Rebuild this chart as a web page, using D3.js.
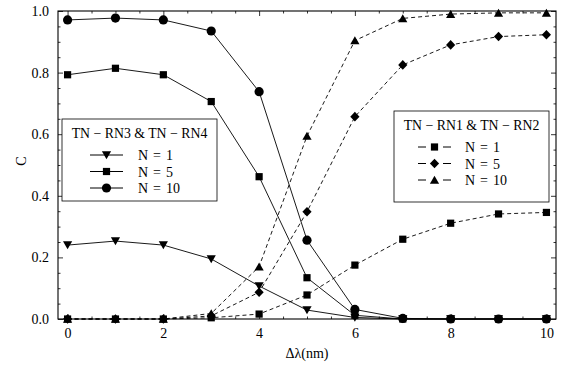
<!DOCTYPE html>
<html>
<head>
<meta charset="utf-8">
<script src="https://cdn.jsdelivr.net/npm/d3@7"></script>
</head>
<body style="margin:0; background:#fff">
<svg id="chart" width="561" height="369"></svg>
<script>
// x positions (delta lambda, nm)
var xValues = [0, 1, 2, 3, 4, 5, 6, 7, 8, 9, 10];

// TN - RN3 & TN - RN4 (solid)
var rn34N1 = [0.240, 0.253, 0.240, 0.195, 0.107, 0.029, 0.005, 0.0, 0.0, 0.0, 0.0];
var rn34N5 = [0.793, 0.814, 0.793, 0.706, 0.462, 0.134, 0.012, 0.0, 0.0, 0.0, 0.0];
var rn34N10 = [0.971, 0.977, 0.971, 0.935, 0.738, 0.256, 0.031, 0.002, 0.0, 0.0, 0.0];

// TN - RN1 & TN - RN2 (dashed)
var rn12N1 = [0.0, 0.0, 0.0, 0.004, 0.016, 0.078, 0.175, 0.259, 0.311, 0.341, 0.346];
var rn12N5 = [0.0, 0.0, 0.0, 0.010, 0.087, 0.348, 0.657, 0.825, 0.890, 0.917, 0.923];
var rn12N10 = [0.0, 0.0, 0.0, 0.018, 0.170, 0.594, 0.904, 0.976, 0.990, 0.994, 0.994];

var xTicks = [0, 2, 4, 6, 8, 10];
var yTicks = [0.0, 0.2, 0.4, 0.6, 0.8, 1.0];

var serif = "Liberation Serif";

var margin = {top: 11, right: 5, bottom: 50, left: 58},
    width = 561 - margin.left - margin.right,
    height = 369 - margin.top - margin.bottom;

var svg = d3.select("#chart");
var g = svg.append("g").attr("transform", "translate(" + margin.left + "," + margin.top + ")");

var x = d3.scaleLinear().domain([-0.2, 10.2]).range([0, width]);
var y = d3.scaleLinear().domain([0, 1]).range([height, 0]);

// marker shapes
function marker(sel, type) {
  if (type === "circle") {
    sel.append("circle").attr("r", 4.6);
  } else if (type === "square") {
    sel.append("rect").attr("x", -3.6).attr("y", -3.6).attr("width", 7.2).attr("height", 7.2);
  } else if (type === "down") {
    sel.append("path").attr("d", "M-4.6,-3.8L4.6,-3.8L0,4.2Z");
  } else if (type === "up") {
    sel.append("path").attr("d", "M-4.6,3.8L4.6,3.8L0,-4.2Z");
  } else if (type === "diamond") {
    sel.append("path").attr("d", "M0,-4.8L4.6,0L0,4.8L-4.6,0Z");
  }
  sel.selectAll("*").attr("fill", "#000");
}

var series = [
  {vals: rn34N1, shape: "down", dash: null},
  {vals: rn34N5, shape: "square", dash: null},
  {vals: rn34N10, shape: "circle", dash: null},
  {vals: rn12N1, shape: "square", dash: "4,3"},
  {vals: rn12N5, shape: "diamond", dash: "4,3"},
  {vals: rn12N10, shape: "up", dash: "4,3"}
];

var line = d3.line()
  .x(function(d, i) { return x(xValues[i]); })
  .y(function(d) { return y(d); });

var plot = g.append("g");
series.forEach(function(s) {
  plot.append("path")
    .attr("d", line(s.vals))
    .attr("fill", "none")
    .attr("stroke", "#000")
    .attr("stroke-width", 0.9)
    .attr("stroke-dasharray", s.dash);
});
series.forEach(function(s) {
  s.vals.forEach(function(v, i) {
    var m = plot.append("g").attr("transform", "translate(" + x(xValues[i]) + "," + y(v) + ")");
    marker(m, s.shape);
  });
});

// frame with inward ticks
var xMinor = d3.range(0, 10.01, 0.5).filter(function(v) { return v % 2 !== 0; });
var yMinor = d3.range(0, 1.001, 0.05).map(function(v) { return Math.round(v * 100) / 100; })
  .filter(function(v) { return Math.round(v * 100) % 20 !== 0; });

g.append("g").attr("transform", "translate(0," + height + ")")
  .call(d3.axisBottom(x).tickValues(xTicks).tickSize(-5).tickPadding(9).tickFormat(d3.format("d")));
g.append("g").attr("transform", "translate(0," + height + ")")
  .call(d3.axisBottom(x).tickValues(xMinor).tickSize(-2.5).tickFormat(""));
g.append("g")
  .call(d3.axisTop(x).tickValues(xTicks).tickSize(-5).tickFormat(""));
g.append("g")
  .call(d3.axisTop(x).tickValues(xMinor).tickSize(-2.5).tickFormat(""));
g.append("g")
  .call(d3.axisLeft(y).tickValues(yTicks).tickSize(-5).tickPadding(9).tickFormat(d3.format(".1f")));
g.append("g")
  .call(d3.axisLeft(y).tickValues(yMinor).tickSize(-2.5).tickFormat(""));
g.append("g").attr("transform", "translate(" + width + ",0)")
  .call(d3.axisRight(y).tickValues(yTicks).tickSize(-5).tickFormat(""));
g.append("g").attr("transform", "translate(" + width + ",0)")
  .call(d3.axisRight(y).tickValues(yMinor).tickSize(-2.5).tickFormat(""));

g.selectAll(".domain").remove();
g.selectAll(".tick line").attr("stroke", "#000").attr("stroke-width", 0.8);
g.selectAll(".tick text")
  .style("font-family", serif)
  .style("font-size", "14px")
  .style("fill", "#000");

g.append("rect")
  .attr("width", width).attr("height", height)
  .attr("fill", "none").attr("stroke", "#000").attr("stroke-width", 1.1);

// axis labels
svg.append("text")
  .attr("transform", "translate(26,161) rotate(-90)")
  .attr("text-anchor", "middle")
  .style("font-family", serif)
  .style("font-size", "14px")
  .text("C");
svg.append("text")
  .attr("x", margin.left + x(5)).attr("y", 358)
  .attr("text-anchor", "middle")
  .style("font-family", serif)
  .style("font-size", "14px")
  .text("Δλ(nm)");

// legends
function legend(lx, ly, w, h, title, items, dashed) {
  var lg = svg.append("g").attr("transform", "translate(" + lx + "," + ly + ")");
  lg.append("rect").attr("width", w).attr("height", h)
    .attr("fill", "#fff").attr("stroke", "#000").attr("stroke-width", 0.8);
  lg.append("text").attr("x", w / 2).attr("y", 19).attr("text-anchor", "middle")
    .style("font-family", serif).style("font-size", "13.8px").text(title);
  items.forEach(function(it, i) {
    var cy = 36 + i * 16.5;
    lg.append("line").attr("x1", it.x0).attr("x2", it.x0 + 33).attr("y1", cy).attr("y2", cy)
      .attr("stroke", "#000").attr("stroke-width", 1)
      .attr("stroke-dasharray", dashed ? "8,17,8" : null);
    var m = lg.append("g").attr("transform", "translate(" + (it.x0 + 16.5) + "," + cy + ")");
    marker(m, it.shape);
    lg.append("text").attr("x", it.tx).attr("y", cy + 5)
      .style("font-family", serif).style("font-size", "14px")
      .style("word-spacing", "1.5px").text(it.label);
  });
}

legend(62, 119, 155, 82, "TN \u2212 RN3 & TN \u2212 RN4", [
  {shape: "down", label: "N = 1", x0: 28, tx: 76},
  {shape: "square", label: "N = 5", x0: 28, tx: 76},
  {shape: "circle", label: "N = 10", x0: 28, tx: 76}
], false);

legend(394, 111, 155, 91, "TN \u2212 RN1 & TN \u2212 RN2", [
  {shape: "square", label: "N = 1", x0: 24, tx: 71},
  {shape: "diamond", label: "N = 5", x0: 24, tx: 71},
  {shape: "up", label: "N = 10", x0: 24, tx: 71}
], true);
</script>
</body>
</html>
